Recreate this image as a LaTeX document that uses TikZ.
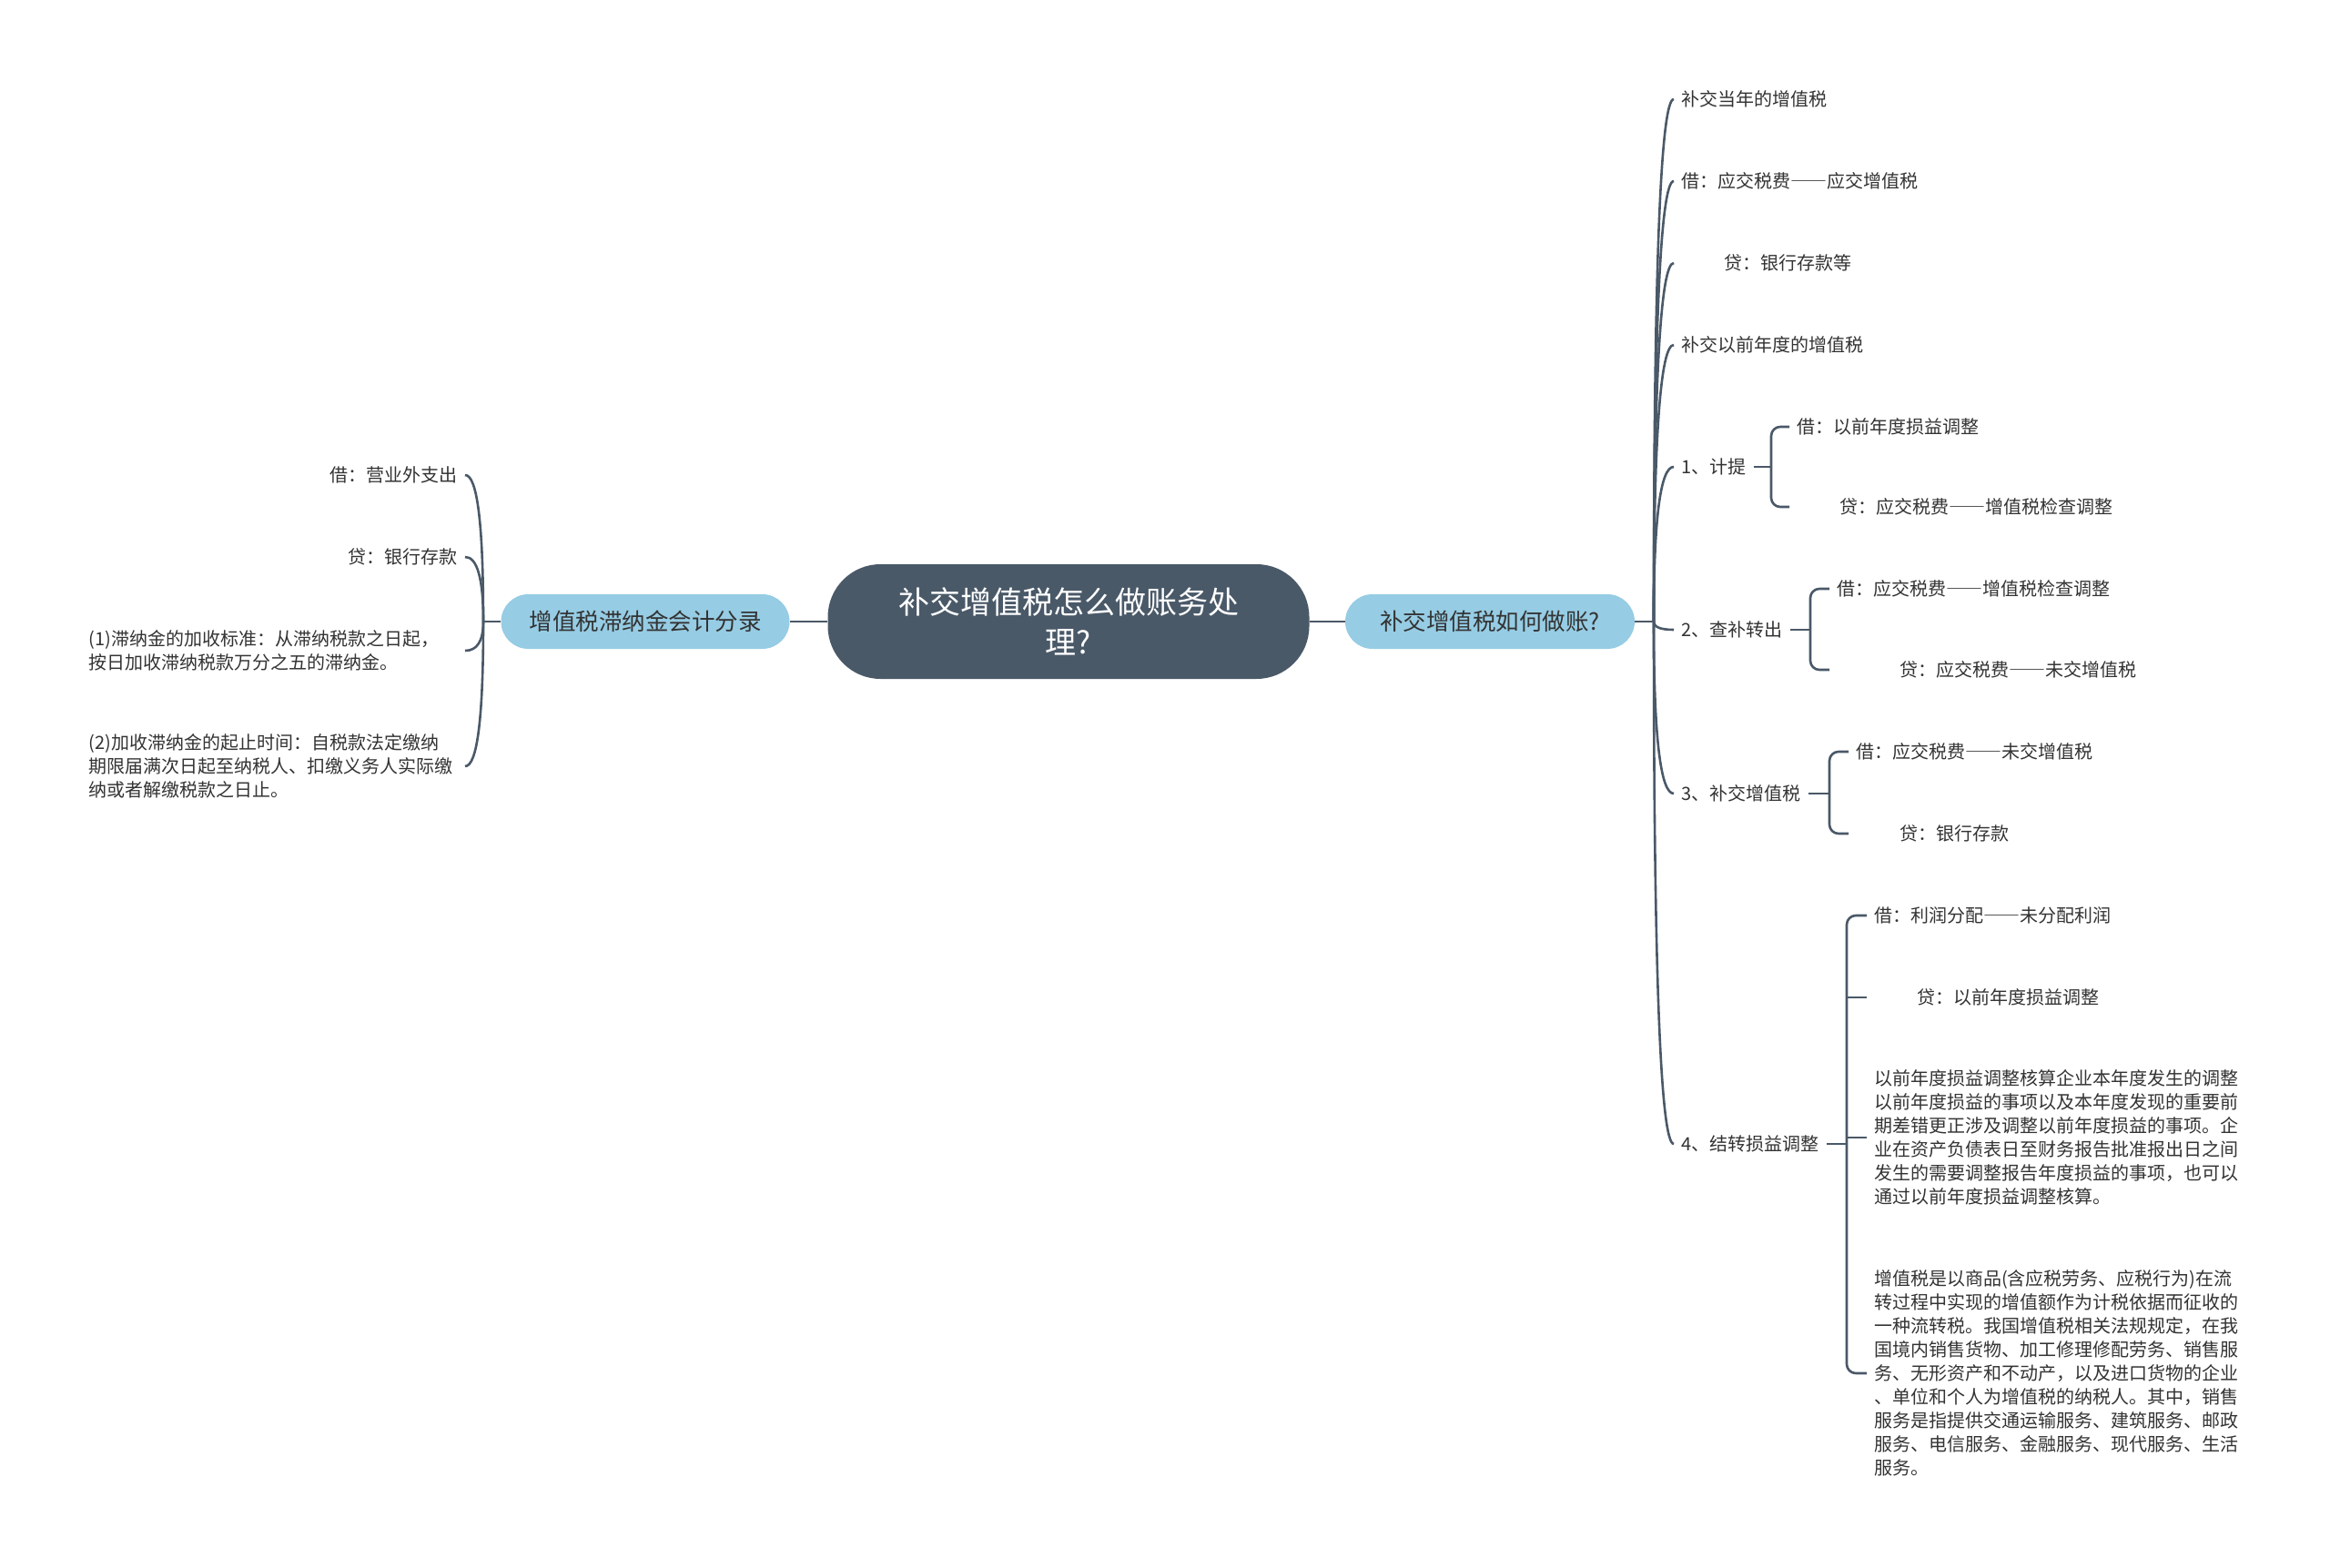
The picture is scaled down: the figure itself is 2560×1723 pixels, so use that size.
\documentclass[tikz,border=0pt]{standalone}
\usepackage{fontspec}
\setmainfont{Noto Sans CJK SC}
\newfontfamily\fwfont[RawFeature=+fwid]{Noto Sans CJK SC}
\newcommand{\ddash}{{\fwfont ——}}
\usetikzlibrary{calc}
\definecolor{cslate}{RGB}{74,89,104}
\definecolor{csky}{RGB}{150,204,228}
\definecolor{cink}{RGB}{51,51,51}
\tikzset{
    mapsec/.style={x=1pt,y=-1pt},
    rootnode/.style={fill=cslate,text=white,rounded corners=58pt,minimum width=529pt,minimum height=126pt,align=center,font=\fontsize{34}{44}\selectfont},
    subnode/.style={fill=csky,text=cink,rounded corners=30pt,minimum height=60pt,font=\fontsize{25.5}{30}\selectfont},
    leaf/.style={text=cink,inner xsep=8pt,inner ysep=3pt,align=left,font=\fontsize{20}{26}\selectfont},
    para/.style={text width=405pt},
    twig/.style={cslate,line width=2.6pt},
    brace/.style={cslate,line width=2.6pt,rounded corners=10pt},
}

\begin{document}
\begin{tikzpicture}[mapsec]
    \fill[white] (0,0) rectangle (2560,1723);
    \node[rootnode] (root) at (1174,683) {补交增值税怎么做账务处\\理?};
    \node[subnode,minimum width=317pt] (lsub) at (709,683) {增值税滞纳金会计分录};
    \node[subnode,minimum width=318pt] (rsub) at (1637,683) {补交增值税如何做账?};
    \coordinate (jl) at (531,683);
    \coordinate (jr) at (1817,683);
    \draw[twig] (root.west) -- (lsub.east);
    \draw[twig] (lsub.west) -- (jl);
    \draw[twig] (root.east) -- (rsub.west);
    \draw[twig] (rsub.east) -- (jr);
    % left branch
    \node[leaf,anchor=east] (l1) at (511,522) {借：营业外支出};
    \node[leaf,anchor=east] (l2) at (511,612) {贷：银行存款};
    \node[leaf,para,anchor=east] (l3) at (511,715) {(1)滞纳金的加收标准：从滞纳税款之日起，\\按日加收滞纳税款万分之五的滞纳金。};
    \node[leaf,para,anchor=east] (l4) at (511,842) {(2)加收滞纳金的起止时间：自税款法定缴纳\\期限届满次日起至纳税人、扣缴义务人实际缴\\纳或者解缴税款之日止。};
    \foreach \nd in {l1,l2,l3,l4}
        \draw[twig] (jl) .. controls ($(jl)!0.667!(jl |- \nd.east)$) and ($(\nd.east)!0.667!(jl |- \nd.east)$) .. (\nd.east);
    % right branch
    \node[leaf,anchor=west] (r1) at (1839,109) {补交当年的增值税};
    \node[leaf,anchor=west] (r2) at (1839,199) {借：应交税费\ddash 应交增值税};
    \node[leaf,anchor=west] (r3) at (1839,289) {\hspace*{47pt}贷：银行存款等};
    \node[leaf,anchor=west] (r4) at (1839,379) {补交以前年度的增值税};
    \node[leaf,anchor=west] (r5) at (1839,513) {1、计提};
    \node[leaf,anchor=west] (r6) at (1839,692) {2、查补转出};
    \node[leaf,anchor=west] (r7) at (1839,872) {3、补交增值税};
    \node[leaf,anchor=west] (r8) at (1839,1257) {4、结转损益调整};
    \foreach \nd in {r1,r2,r3,r4,r5,r6,r7,r8}
        \draw[twig] (jr) .. controls ($(jr)!0.667!(jr |- \nd.west)$) and ($(\nd.west)!0.667!(jr |- \nd.west)$) .. (\nd.west);
    % entries
    \node[leaf,anchor=west] (r5a) at (1966,469) {借：以前年度损益调整};
    \node[leaf,anchor=west] (r5b) at (1966,557) {\hspace*{47pt}贷：应交税费\ddash 增值税检查调整};
    \node[leaf,anchor=west] (r6a) at (2010,647) {借：应交税费\ddash 增值税检查调整};
    \node[leaf,anchor=west] (r6b) at (2010,736) {\hspace*{69pt}贷：应交税费\ddash 未交增值税};
    \node[leaf,anchor=west] (r7a) at (2031,826) {借：应交税费\ddash 未交增值税};
    \node[leaf,anchor=west] (r7b) at (2031,916) {\hspace*{48pt}贷：银行存款};
    \node[leaf,anchor=west] (r8a) at (2051,1006) {借：利润分配\ddash 未分配利润};
    \node[leaf,anchor=west] (r8b) at (2051,1096) {\hspace*{47pt}贷：以前年度损益调整};
    \node[leaf,para,anchor=west] (r8c) at (2051,1250) {以前年度损益调整核算企业本年度发生的调整\\以前年度损益的事项以及本年度发现的重要前\\期差错更正涉及调整以前年度损益的事项。企\\业在资产负债表日至财务报告批准报出日之间\\发生的需要调整报告年度损益的事项，也可以\\通过以前年度损益调整核算。};
    \node[leaf,para,anchor=west] (r8d) at (2051,1509) {增值税是以商品(含应税劳务、应税行为)在流\\转过程中实现的增值额作为计税依据而征收的\\一种流转税。我国增值税相关法规规定，在我\\国境内销售货物、加工修理修配劳务、销售服\\务、无形资产和不动产，以及进口货物的企业\\、单位和个人为增值税的纳税人。其中，销售\\服务是指提供交通运输服务、建筑服务、邮政\\服务、电信服务、金融服务、现代服务、生活\\服务。};
    \coordinate (kr5) at (1946,513);
    \coordinate (kr6) at (1989,692);
    \coordinate (kr7) at (2010,872);
    \coordinate (kr8) at (2029,1257);
    \foreach \p/\a/\b in {r5/r5a/r5b,r6/r6a/r6b,r7/r7a/r7b,r8/r8a/r8d} {
        \draw[twig] (\p.east) -- (k\p);
        \draw[brace] (\a.west) -| (k\p) |- (\b.west);
    }
    \draw[twig] (r8b.west -| kr8) -- (r8b.west);
    \draw[twig] (r8c.west -| kr8) -- (r8c.west);
\end{tikzpicture}
\end{document}
